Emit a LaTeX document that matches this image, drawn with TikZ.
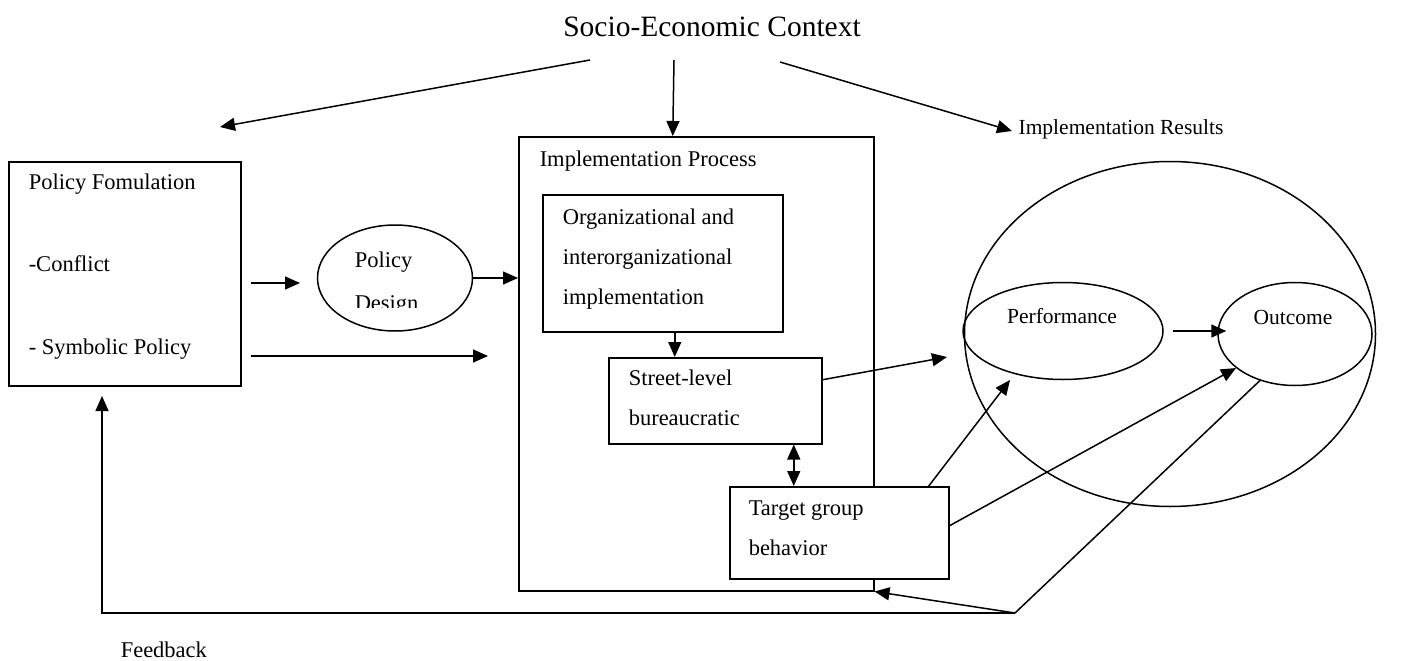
\documentclass[tikz,border=0pt]{standalone}
\usepackage{fontspec}
\setmainfont{Liberation Serif}
\usetikzlibrary{arrows.meta,shapes.geometric}
\begin{document}
\begin{tikzpicture}[x=1pt,y=-1pt,line width=1.5pt,
  arr/.style={-{Triangle[length=15pt,width=13pt]}},
  darr/.style={{Triangle[length=15pt,width=13pt]}-{Triangle[length=15pt,width=13pt]}},
  box/.style={draw,rectangle,inner sep=0pt,anchor=north west},
  oval/.style={draw,ellipse,inner sep=0pt},
  txt/.style={anchor=west,inner sep=0pt,font=\fontsize{22.5}{27}\selectfont,text height=15pt,text depth=5pt},
  stxt/.style={inner sep=0pt,font=\fontsize{21.5}{26}\selectfont,text height=15pt,text depth=5pt}]
\useasboundingbox (0,0) rectangle (1424,661);
% boxes
\node[box,minimum width=232pt,minimum height=224pt] (pf) at (8,161) {};
\node[box,minimum width=355pt,minimum height=454pt] (ip) at (518,136) {};
\node[box,minimum width=240pt,minimum height=137pt] (org) at (542,194) {};
\node[box,minimum width=213pt,minimum height=86pt] (slb) at (608,357) {};
\node[box,fill=white,minimum width=219pt,minimum height=92pt] (tgb) at (729,486) {};
% ellipses
\node[oval,minimum width=155pt,minimum height=106pt] (pd) at (395,278) {};
\node[oval,minimum width=411pt,minimum height=345pt] (ir) at (1170,334) {};
\node[oval,minimum width=200pt,minimum height=97pt] (perf) at (1063,331) {};
\node[oval,minimum width=154pt,minimum height=103pt] (out) at (1295,334) {};
% texts
\node[inner sep=0pt,font=\fontsize{29.5}{34}\selectfont] (sec) at (712,27) {Socio-Economic Context};
\node[stxt] (irt) at (1121,129) {Implementation Results};
\node[txt] (t1) at (28,184) {Policy Fomulation};
\node[txt] (t2) at (28,266) {-Conflict};
\node[txt] (t3) at (28,349) {- Symbolic Policy};
\node[txt] (t4) at (354,262) {Policy};
\begin{scope}
\clip (340,285) rectangle (460,307);
\node[txt] (t5) at (354,305) {Design};
\end{scope}
\node[txt] (t6) at (539,161) {Implementation Process};
\node[txt] (t7) at (562,219) {Organizational and};
\node[txt] (t8) at (562,259) {interorganizational};
\node[txt] (t9) at (562,299) {implementation};
\node[txt] (t10) at (628,380) {Street-level};
\node[txt] (t11) at (628,420) {bureaucratic};
\node[txt] (t12) at (748,510) {Target group};
\node[txt] (t13) at (748,550) {behavior};
\node[stxt] (t14) at (1062,318) {Performance};
\node[stxt] (t15) at (1293,319) {Outcome};
\node[txt] (fbt) at (120,652) {Feedback};
% free coordinates
\coordinate (s1) at (590,60);  \coordinate (e1) at (220,127);
\coordinate (s2) at (674,60);
\coordinate (s3) at (780,62);  \coordinate (e3) at (1012,131);
\coordinate (c1) at (251,283); \coordinate (c2) at (300,283);
\coordinate (sy1) at (251,356); \coordinate (sy2) at (488,356);
\coordinate (pe) at (947,357);
\coordinate (pe2) at (1010,380);
\coordinate (fb1) at (1015,613);
\coordinate (fb2) at (102,613);
\coordinate (fb3) at (102,396);
% connectors
\draw[arr] (s1) -- (e1);
\draw[arr] (s2) -- ([xshift=-23.5pt]ip.north);
\draw[arr] (s3) -- (e3);
\draw[arr] (c1) -- (c2);
\draw[arr] (pd.east) -- (pd.east -| ip.west);
\draw[arr] (sy1) -- (sy2);
\draw[arr] ([xshift=12pt]org.south) -- ([xshift=12pt]org.south |- slb.north);
\draw[darr] ([xshift=78.5pt]slb.south) -- ([xshift=78.5pt]slb.south |- tgb.north);
\draw[arr] ([yshift=21pt]slb.east) -- (pe);
\draw[arr] ([xshift=89.5pt]tgb.north) -- (pe2);
\draw[arr] ([yshift=7pt]tgb.east) -- (out.210);
\draw[arr] ([xshift=9pt]perf.east) -- ([xshift=9pt]perf.east -| out.west);
\draw (out.233) -- (fb1);
\draw[arr] (fb1) -- (ip.south east);
\draw[arr] (fb1) -- (fb2) -- (fb3);
\end{tikzpicture}
\end{document}
